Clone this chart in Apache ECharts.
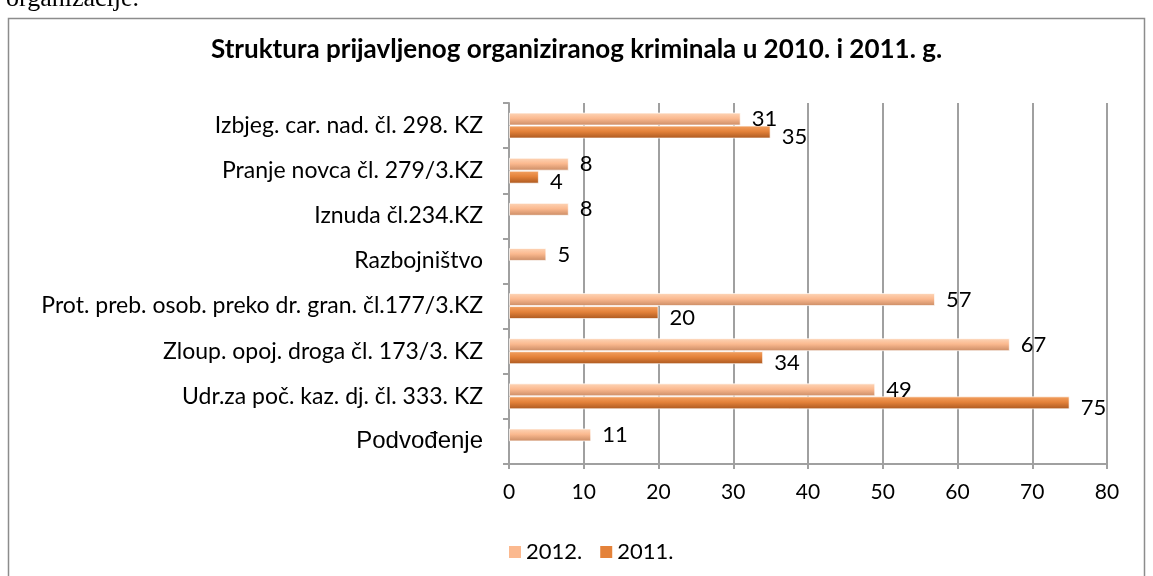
<!DOCTYPE html>
<html><head><meta charset="utf-8">
<script src="https://cdn.jsdelivr.net/npm/echarts@6/dist/echarts.min.js"></script>
<style>html,body{margin:0;padding:0;background:#fff}#c{width:1153px;height:576px}</style>
</head><body><div id="c"></div>
<script>
const categories = [
  "Izbjeg. car. nad. čl. 298. KZ",
  "Pranje novca čl. 279/3.KZ",
  "Iznuda čl.234.KZ",
  "Razbojništvo",
  "Prot. preb. osob. preko dr. gran. čl.177/3.KZ",
  "Zloup. opoj. droga čl. 173/3. KZ",
  "Udr.za poč. kaz. dj. čl. 333. KZ",
  "Podvođenje"
];
const values2012 = [31, 8, 8, 5, 57, 67, 49, 11];
const values2011 = [35, 4, null, null, 20, 34, 75, null];
const xTicks = [0, 10, 20, 30, 40, 50, 60, 70, 80];
const seriesNames = ["2012.", "2011."];
const titleText = "Struktura prijavljenog organiziranog kriminala u 2010. i 2011. g.";

const chart = echarts.init(document.getElementById('c'));
const grad = (a, b, c) => new echarts.graphic.LinearGradient(0, 0, 0, 1, [
  {offset: 0, color: a}, {offset: 0.45, color: b}, {offset: 1, color: c}]);
const labelStyle = {show: true, position: 'right', distance: 11, color: '#000',
  fontFamily: 'Lato', fontSize: 22, formatter: p => p.value};

chart.setOption({
  animation: false,
  backgroundColor: '#fff',
  graphic: [
    {type: 'rect', shape: {x: 8.5, y: 18.5, width: 1136, height: 600},
     style: {fill: 'none', stroke: '#8c8c8c', lineWidth: 1.5}},
    {type: 'text', x: 6, y: 12,
     style: {text: 'organizacije.', fontFamily: 'Liberation Serif', fontSize: 26, fill: '#000', verticalAlign: 'bottom'}}
  ],
  title: {text: titleText, left: 'center', top: 32,
    textStyle: {fontFamily: 'Lato', fontWeight: 'bold', fontSize: 26, color: '#000'}},
  legend: {data: [
      {name: seriesNames[0], itemStyle: {color: '#fbb98f', borderWidth: 0}},
      {name: seriesNames[1], itemStyle: {color: '#e4823a', borderWidth: 0}}],
    left: 504, top: 536, itemWidth: 12, itemHeight: 12, itemGap: 18,
    icon: 'rect', textStyle: {fontFamily: 'Lato', fontSize: 22, color: '#000'}},
  grid: {left: 509, right: 46, top: 103, bottom: 112},
  xAxis: {type: 'value', min: 0, max: 80, interval: 10,
    axisLine: {show: true, lineStyle: {color: '#a0a0a0', width: 2}},
    axisTick: {show: true, length: 5, lineStyle: {color: '#a0a0a0', width: 2}},
    axisLabel: {margin: 18, fontFamily: 'Lato', fontSize: 21, color: '#000',
      formatter: v => xTicks.includes(v) ? String(v) : ''},
    splitLine: {show: true, lineStyle: {color: '#a0a0a0', width: 2}}},
  yAxis: {type: 'category', data: categories, inverse: true,
    axisLine: {show: true, lineStyle: {color: '#a0a0a0', width: 2}},
    axisTick: {show: true, length: 6, lineStyle: {color: '#a0a0a0', width: 2}},
    axisLabel: {margin: 26, color: '#000', fontFamily: 'Lato', fontSize: 23,
      formatter: v => v === 'Podvođenje' ? '{big|' + v + '}' : v,
      rich: {big: {fontFamily: 'Liberation Sans', fontSize: 24, color: '#000'}}}},
  series: [
    {name: seriesNames[0], type: 'bar', data: values2012, barWidth: 13, barGap: '0%',
     itemStyle: {color: grad('#fdd6b9', '#fbb98f', '#c98a63'), borderColor: 'rgba(255,255,255,0.7)', borderWidth: 1},
     label: labelStyle},
    {name: seriesNames[1], type: 'bar', data: values2011, barWidth: 13, barGap: '0%',
     itemStyle: {color: grad('#f3a263', '#e4823a', '#a9571f'), borderColor: 'rgba(255,255,255,0.7)', borderWidth: 1},
     label: Object.assign({}, labelStyle, {offset: [0, 5]})}
  ]
});
</script></body></html>
